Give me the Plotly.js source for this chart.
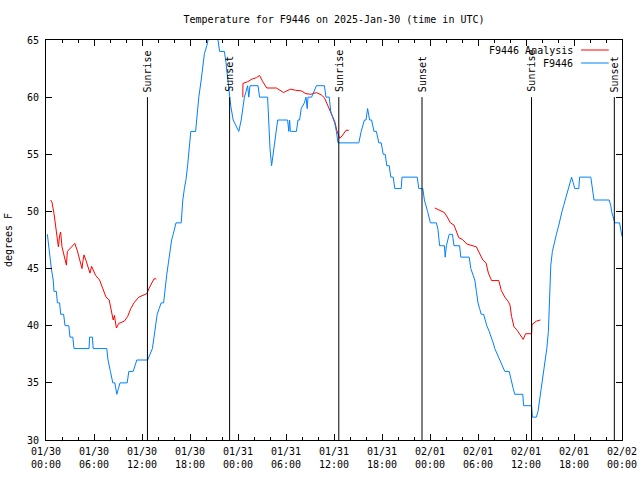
<!DOCTYPE html>
<html>
<head>
<meta charset="utf-8">
<script src="https://cdn.plot.ly/plotly-3.0.1.min.js"></script>
<style>html,body{margin:0;padding:0;background:#fff;}#chart{width:640px;height:480px;}</style>
</head>
<body>
<div id="chart"></div>
<script>
// Hours since 2025-01-30 00:00 UTC
var obsHours = [0.17,0.45,0.67,0.9,1.0,1.3,1.42,1.7,1.84,2.2,2.38,2.85,3.0,3.35,3.5,5.38,5.45,5.8,5.9,7.6,7.75,8.05,8.35,8.6,8.85,9.05,9.25,10.15,10.35,10.9,11.35,12.7,13.05,13.3,13.5,13.7,13.9,14.15,14.4,14.7,14.9,15.1,15.3,15.5,15.7,15.9,16.1,16.25,16.9,17.1,17.3,17.5,17.7,17.9,18.1,18.7,18.9,19.1,19.4,19.6,19.8,20.1,20.4,21.3,21.5,21.7,22.3,22.5,22.8,23.1,23.4,23.8,24.1,24.4,24.6,24.8,25.0,25.2,25.35,25.5,26.5,26.7,27.7,27.85,28.0,28.2,28.4,28.55,28.75,28.96,30.2,30.35,30.45,30.55,30.7,31.3,31.5,31.7,31.9,32.3,32.5,32.65,32.75,33.0,33.2,33.8,34.8,35.0,35.4,35.6,35.9,36.1,36.3,36.5,39.1,39.4,39.8,40.0,40.2,40.45,40.7,41.0,41.3,41.6,41.9,42.15,42.4,42.6,42.9,43.1,43.4,43.6,44.4,44.5,46.4,46.6,47.1,47.3,47.7,48.05,48.8,49.0,49.2,49.8,49.9,50.05,50.4,50.8,51.0,51.7,51.85,52.9,53.1,53.4,53.6,53.8,54.0,54.2,54.4,54.7,54.9,55.1,55.4,55.7,55.9,56.1,56.4,56.7,57.0,57.35,57.9,58.2,58.4,58.6,59.6,59.7,60.7,60.8,61.3,61.5,61.7,61.9,62.1,62.4,62.6,62.8,62.9,63.0,63.1,63.3,63.5,63.8,64.1,64.3,64.5,64.7,64.9,65.1,65.3,65.5,65.7,65.9,66.1,66.6,66.7,68.1,68.3,68.5,70.4,70.6,70.7,70.9,71.1,71.7,71.9,72.0];
var obsTemps = [48,46,45,44,43,43,42,42,41,41,40,40,39,39,38,38,39,39,38,38,37,36,35,35,34,34.5,35,35,36,36,37,37,37.5,38,39,40,41,41.5,42,42,43.5,44.5,45.5,46.5,47.5,48,48.5,49,49,51,52,52.8,54,55.5,57,57,58.5,60,61.5,62.8,63.8,64.5,65.5,65.5,65,64,64,63,61,59.2,58,57.5,57,58,59,60,60.5,61,60,61,61,60,60,57,55.5,54,55,56,57,58,58,57,58,57,57,57,58,58,59,59.5,60,59,60,60,60,61,61,60,60,58.7,58,57.7,57,56,56,57,58,58,59,58,58,57,57,56,56,55,55,54,54,53,53,52,52,53,53,52,52,51,50,49,49,48.4,47,47,46,47,48,48,47,47,46,46,45,44.5,44,43,42,41.5,41,41,40.5,40,39.5,39,38.5,38,37.5,37,36.5,36,36,35,34.5,34,34,33,33,32,32,32.5,33.5,34.5,35.5,37,38,39.5,41,43,45.3,46.5,47.2,48,48.8,49.5,50,50.5,51,51.5,52,52.5,53,52.5,52,52,53,53,52,51,51,50.5,50,49.5,49,49,48,47.8];

var anaHours = [0.58,0.75,1.0,1.42,1.55,1.7,1.83,2.0,2.4,2.55,2.67,3.1,3.6,3.9,4.2,4.5,4.6,4.75,5.0,5.3,5.5,5.7,6.2,6.7,7.05,7.5,7.9,8.1,8.4,8.55,8.8,9.1,9.8,10.2,10.6,11.0,11.6,12.6,12.9,13.5,13.8,
  null,
  24.6,24.62,25.2,25.8,26.3,26.7,27.1,27.6,28.8,29.7,30.1,30.6,31.2,31.9,32.5,33.1,33.8,34.4,34.8,35.2,35.6,36.1,36.35,36.7,37.0,37.5,37.85,
  null,
  48.6,49.2,49.8,50.25,50.55,51.0,51.3,51.6,52.05,52.6,53.8,54.1,54.6,55.0,55.3,55.7,56.6,56.9,57.35,57.8,58.0,58.2,58.5,58.9,59.3,59.65,59.95,60.7,60.75,61.3,61.8];
var anaTemps = [51,50.8,49.8,47.8,46.9,47.9,48.2,46.9,45.75,45.3,46.5,46.8,47.2,46.6,45.75,45.0,45.6,46.2,45.7,45.0,44.6,45.2,44.4,44.0,43.3,42.5,42.25,41.4,40.5,40.9,39.8,40.2,40.4,40.8,41.5,42.0,42.5,42.8,43.3,44.1,44.1,
  null,
  60,61.2,61.35,61.6,61.7,61.9,61.35,60.8,60.8,60.4,60.55,60.7,60.6,60.55,60.3,60.25,60.4,60.2,59.95,59.3,58.6,57.85,57.1,56.4,56.6,57.1,57.1,
  null,
  50.3,50.1,49.9,49.4,49.0,48.8,48.2,47.7,47.55,47.15,46.9,46.5,45.75,45.5,44.6,43.95,43.95,43.1,42.5,42.1,41.8,40.8,39.9,39.6,39.2,38.8,39.3,39.3,40.1,40.4,40.5];

var sunHours = [12.68, 22.95, 36.6, 47.0, 60.69, 71.04];
var sunLabels = ["Sunrise","Sunset","Sunrise","Sunset","Sunrise","Sunset"];
var sunLineTop = 60;

var xTickVals = [0,6,12,18,24,30,36,42,48,54,60,66,72];
var xTickText = ["01/30<br>00:00","01/30<br>06:00","01/30<br>12:00","01/30<br>18:00","01/31<br>00:00","01/31<br>06:00","01/31<br>12:00","01/31<br>18:00","02/01<br>00:00","02/01<br>06:00","02/01<br>12:00","02/01<br>18:00","02/02<br>00:00"];
var xMinorVals = [2,4,8,10,14,16,20,22,26,28,32,34,38,40,44,46,50,52,56,58,62,64,68,70];
var yTickVals = [30,35,40,45,50,55,60,65];

var seriesNames = ["F9446 Analysis","F9446"];
var seriesColors = ["#ff0000","#0080ff"];

var FONT = "DejaVu Sans Mono, Liberation Mono, monospace";

var traces = [
  {x: anaHours, y: anaTemps, type: "scatter", mode: "lines", name: seriesNames[0],
   line: {color: seriesColors[0], width: 1}, connectgaps: false, showlegend: false},
  {x: obsHours, y: obsTemps, type: "scatter", mode: "lines", name: seriesNames[1],
   line: {color: seriesColors[1], width: 1}, showlegend: false}
];

var shapes = sunHours.map(function(h){
  return {type: "line", xref: "x", yref: "y", x0: h, x1: h, y0: 30, y1: sunLineTop,
          line: {color: "#000", width: 1}};
});
var annotations = sunHours.map(function(h, i){
  return {x: h, y: sunLineTop, xref: "x", yref: "y", text: sunLabels[i], textangle: -90,
          showarrow: false, xanchor: "center", yanchor: "bottom", yshift: 3,
          font: {family: FONT, size: 10, color: "#000"}};
});
// manual legend (text then line sample, gnuplot style)
var legY = [0.975, 0.9425];
seriesNames.forEach(function(n, i){
  annotations.push({x: 0.918, y: legY[i], xref: "paper", yref: "paper", text: n,
    showarrow: false, xanchor: "right", yanchor: "middle",
    font: {family: FONT, size: 10, color: "#000"}});
  shapes.push({type: "line", xref: "paper", yref: "paper", x0: 0.929, x1: 0.977,
    y0: legY[i], y1: legY[i], line: {color: seriesColors[i], width: 1}});
});

var layout = {
  width: 640, height: 480,
  margin: {l: 46, r: 18, t: 40, b: 40, pad: 0},
  paper_bgcolor: "#fff", plot_bgcolor: "#fff",
  font: {family: FONT, size: 10, color: "#000"},
  showlegend: false,
  title: {text: "Temperature for F9446 on 2025-Jan-30 (time in UTC)", x: 0.5, xref: "paper",
          y: 1 - 19/480, yanchor: "middle", font: {family: FONT, size: 10, color: "#000"}},
  xaxis: {range: [0, 72], tickmode: "array", tickvals: xTickVals, ticktext: xTickText,
          ticks: "inside", ticklen: 6, tickwidth: 1, tickcolor: "#000",
          showline: true, linecolor: "#000", linewidth: 1, mirror: "ticks",
          showgrid: false, zeroline: false, ticklabelstandoff: 2,
          minor: {tickmode: "array", tickvals: xMinorVals, ticks: "inside", ticklen: 3, tickcolor: "#000", showgrid: false},
          tickfont: {family: FONT, size: 10, color: "#000"}, automargin: false},
  yaxis: {range: [30, 65], tickmode: "array", tickvals: yTickVals,
          ticks: "inside", ticklen: 6, tickwidth: 1, tickcolor: "#000",
          showline: true, linecolor: "#000", linewidth: 1, mirror: "ticks",
          showgrid: false, zeroline: false, ticklabelstandoff: 4,
          title: {text: "degrees F", standoff: 12, font: {family: FONT, size: 10, color: "#000"}},
          tickfont: {family: FONT, size: 10, color: "#000"}, automargin: false},
  shapes: shapes,
  annotations: annotations
};

Plotly.newPlot("chart", traces, layout, {displayModeBar: false, staticPlot: true});
</script>
</body>
</html>
